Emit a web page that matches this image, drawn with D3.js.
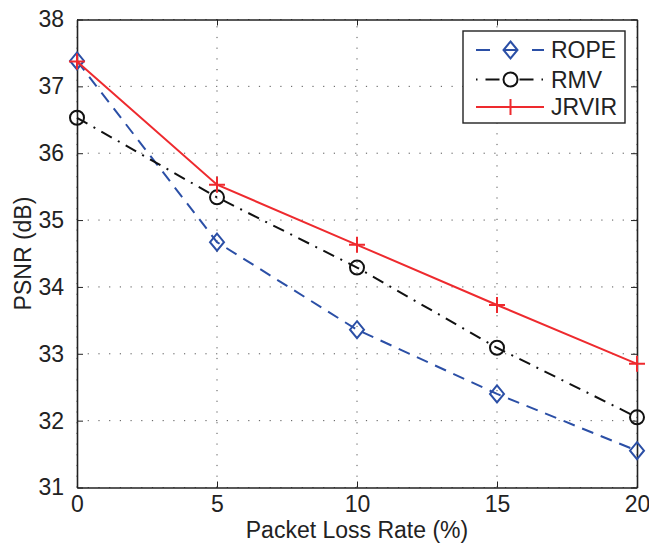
<!DOCTYPE html>
<html><head><meta charset="utf-8">
<script src="https://cdn.jsdelivr.net/npm/d3@7"></script>
<style>body{margin:0;background:#fff;} text{font-family:Arial,"Liberation Sans",sans-serif;fill:#222;}</style>
</head><body>
<svg id="c" width="649" height="547"></svg>
<script>
const xValues = [0, 5, 10, 15, 20];
const ropeValues = [37.38, 34.67, 33.36, 32.40, 31.55];
const rmvValues  = [36.53, 35.34, 34.29, 33.09, 32.05];
const jrvirValues = [37.37, 35.53, 34.63, 33.73, 32.85];
const seriesNames = ["ROPE", "RMV", "JRVIR"];
const xTicks = [0, 5, 10, 15, 20];
const yTicks = [31, 32, 33, 34, 35, 36, 37, 38];
const xLabel = "Packet Loss Rate (%)";
const yLabel = "PSNR (dB)";

const svg = d3.select("#c");
const L = 77, R = 637, T = 19.5, B = 487.5;
const x = d3.scaleLinear().domain([0, 20]).range([L, R]);
const y = d3.scaleLinear().domain([31, 38]).range([B, T]);
const FS = 23;

// grid
const grid = svg.append("g").attr("stroke", "#555").attr("stroke-width", 1).attr("stroke-dasharray", "1.2,9.5");
xTicks.forEach(t => grid.append("line").attr("x1", x(t)).attr("x2", x(t)).attr("y1", B).attr("y2", T));
yTicks.forEach(t => grid.append("line").attr("x1", L).attr("x2", R).attr("y1", y(t)).attr("y2", y(t)));

// axes with inner ticks
const ax = svg.append("g");
ax.append("g").attr("transform", `translate(0,${B})`).call(d3.axisBottom(x).tickValues(xTicks).tickFormat(d3.format("d")).tickSizeInner(-6).tickSizeOuter(0).tickPadding(8));
ax.append("g").attr("transform", `translate(0,${T})`).call(d3.axisTop(x).tickValues(xTicks).tickSizeInner(-6).tickSizeOuter(0).tickFormat(""));
ax.append("g").attr("transform", `translate(${L},0)`).call(d3.axisLeft(y).tickValues(yTicks).tickFormat(d3.format("d")).tickSizeInner(-6).tickSizeOuter(0).tickPadding(13));
ax.append("g").attr("transform", `translate(${R},0)`).call(d3.axisRight(y).tickValues(yTicks).tickSizeInner(-6).tickSizeOuter(0).tickFormat(""));
ax.selectAll(".domain").attr("stroke", "#222").attr("stroke-width", 1.6);
ax.selectAll(".tick line").attr("stroke", "#222").attr("stroke-width", 1);
ax.selectAll(".tick text").style("font-size", FS + "px").attr("fill", "#222").style("font-family", "Arial, 'Liberation Sans', sans-serif");

// axis labels
svg.append("text").attr("x", 357).attr("y", 538).attr("text-anchor", "middle").style("font-size", FS + "px").text(xLabel);
svg.append("text").attr("transform", `translate(31,${(T + B) / 2}) rotate(-90)`).attr("text-anchor", "middle").style("font-size", FS + "px").text(yLabel);

const series = [
  {name: seriesNames[0], vals: ropeValues, color: "#2b4fa6", dash: "12,8", marker: "diamond"},
  {name: seriesNames[1], vals: rmvValues, color: "#111", dash: "12,7,2,7", marker: "circle"},
  {name: seriesNames[2], vals: jrvirValues, color: "#ee2a2e", dash: null, marker: "plus"}
];

function drawMarker(g, type, cx, cy, color) {
  if (type === "diamond") {
    g.append("path").attr("d", `M${cx},${cy-8.5}L${cx+7},${cy}L${cx},${cy+8.5}L${cx-7},${cy}Z`)
      .attr("fill", "none").attr("stroke", color).attr("stroke-width", 2);
  } else if (type === "circle") {
    g.append("circle").attr("cx", cx).attr("cy", cy).attr("r", 7).attr("fill", "none").attr("stroke", color).attr("stroke-width", 2);
  } else {
    g.append("path").attr("d", `M${cx-8},${cy}H${cx+8}M${cx},${cy-8}V${cy+8}`).attr("stroke", color).attr("stroke-width", 2);
  }
}

const line = d3.line().x((d, i) => x(xValues[i])).y(d => y(d));
series.forEach(s => {
  const g = svg.append("g");
  g.append("path").attr("d", line(s.vals)).attr("fill", "none").attr("stroke", s.color).attr("stroke-width", 2)
    .attr("stroke-dasharray", s.dash);
  s.vals.forEach((v, i) => drawMarker(g, s.marker, x(xValues[i]), y(v), s.color));
});

// legend
const lg = svg.append("g");
lg.append("rect").attr("x", 463).attr("y", 31).attr("width", 162).attr("height", 92).attr("fill", "#fff").attr("stroke", "#222").attr("stroke-width", 1.4);
const rowsY = [50, 79.5, 107];
series.forEach((s, i) => {
  const yy = rowsY[i];
  lg.append("line").attr("x1", 476).attr("x2", 544).attr("y1", yy).attr("y2", yy).attr("stroke", s.color).attr("stroke-width", 2)
    .attr("stroke-dasharray", s.marker === "diamond" ? "14,14" : (s.marker === "circle" ? "1.5,8,14,20,14,8" : null));
  drawMarker(lg, s.marker, 510.5, yy, s.color);
  lg.append("text").attr("x", 551).attr("y", yy + 8).style("font-size", FS + "px").text(s.name);
});
</script>
</body></html>
